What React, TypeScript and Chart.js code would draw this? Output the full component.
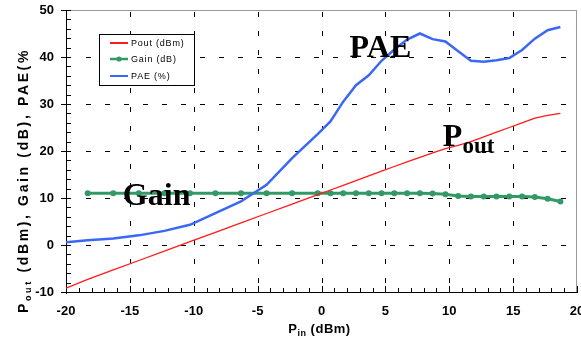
import React, { useEffect, useRef } from "react";
import { Chart, registerables } from "chart.js";

Chart.register(...registerables);

// ---- data ----
const pinAll = [
  -20, -18.3, -16.3, -14.3, -12.3, -10.3, -8.3, -6.3, -4.3, -2.3, -0.3,
  0.7, 1.7, 2.7, 3.7, 4.7, 5.7, 6.7, 7.7, 8.7, 9.7, 10.7, 11.7, 12.7, 13.7,
  14.7, 15.7, 16.7, 17.7, 18.7,
];
const poutValues = [
  -9.2, -7.3, -5.3, -3.3, -1.3, 0.7, 2.7, 4.7, 6.7, 8.7, 10.7,
  11.7, 12.7, 13.7, 14.7, 15.7, 16.7, 17.7, 18.65, 19.6, 20.5, 21.2, 22.0, 23.0, 24.0,
  25.0, 26.0, 27.0, 27.6, 28.0,
];
const paeValues = [
  0.6, 1.0, 1.4, 2.05, 3.0, 4.3, 6.8, 9.3, 12.8, 18.5, 23.6,
  26.3, 30.5, 34.0, 36.1, 39.2, 41.6, 43.7, 45.0, 43.8, 43.3, 41.2, 39.2, 39.0, 39.3,
  39.8, 41.5, 43.9, 45.7, 46.4,
];
const gainPin = [
  -18.3, -16.3, -14.3, -12.3, -10.3, -8.3, -6.3, -4.3, -2.3, -0.3,
  0.7, 1.7, 2.7, 3.7, 4.7, 5.7, 6.7, 7.7, 8.7, 9.7, 10.7, 11.7, 12.7, 13.7,
  14.7, 15.7, 16.7, 17.7, 18.7,
];
const gainValues = [
  11.0, 11.0, 11.0, 11.0, 11.0, 11.0, 11.0, 11.0, 11.0, 11.0,
  11.0, 11.0, 11.0, 11.0, 11.0, 11.0, 11.0, 11.0, 10.95, 10.8, 10.45, 10.3, 10.3, 10.3,
  10.3, 10.3, 10.2, 9.85, 9.25,
];
const seriesLabels = ["Pout (dBm)", "Gain (dB)", "PAE (%)"];
const xTickValues = [-20, -15, -10, -5, 0, 5, 10, 15, 20];
const yTickValues = [-10, 0, 10, 20, 30, 40, 50];
const xMinorStep = 1;
const yMinorStep = 2;

const RED = "#ff1a1a";
const GREEN = "#339966";
const BLUE = "#3a68f5";

const annotations = [
  { text: "PAE", x: 2.2, y: 40.0 },
  { text: "Gain", x: -15.55, y: 8.5 },
];
const poutAnnot = { x: 9.5, y: 21.05 };

function setLS(ctx: any, v: number) {
  if ("letterSpacing" in ctx) ctx.letterSpacing = v + "px";
}

function px(scale: any, v: number) {
  return Math.round(Number(scale.getPixelForValue(v)));
}

function drawFrame(chart: any) {
  const ctx: any = chart.ctx;
  const x = chart.scales.x;
  const y = chart.scales.y;
  const xs = xTickValues;
  const ys = yTickValues;
  const xMin = xs[0];
  const xMax = xs[xs.length - 1];
  const yMin = ys[0];
  const yMax = ys[ys.length - 1];
  const L = px(x, xMin);
  const R = px(x, xMax) - 1;
  const T = px(y, yMax);
  const B = px(y, yMin);
  ctx.save();
  ctx.setTransform(1, 0, 0, 1, 0, 0);
  ctx.globalAlpha = 1;
  ctx.globalCompositeOperation = "source-over";
  ctx.filter = "none";
  ctx.shadowColor = "rgba(0,0,0,0)";
  ctx.beginPath();
  ctx.rect(0, 0, 581, 338);
  ctx.clip();
  if (![L, R, T, B].every((n) => Number.isFinite(n))) {
    ctx.fillStyle = "#f0f";
    ctx.font = "10px sans-serif";
    ctx.fillText("L" + L + " R" + R + " T" + T + " B" + B, 300, 330);
  }
  ctx.fillStyle = "rgb(0,0,0)";
  // dashed grid lines
  for (let i = 1; i < xs.length - 1; i++) {
    const gx = px(x, xs[i]);
    for (let yy = T + 2; yy < B - 2; yy += 19) {
      ctx.fillRect(gx, yy, 1, Math.min(5, B - 2 - yy));
    }
  }
  for (let i = 1; i < ys.length - 1; i++) {
    const gy = px(y, ys[i]);
    for (let xx = L + 20; xx < R - 1; xx += 19) {
      ctx.fillRect(xx, gy, Math.min(5, R - 1 - xx), 1);
    }
  }
  // top & right border (grey)
  ctx.fillStyle = "rgb(154,154,154)";
  ctx.fillRect(L, T, R - L + 1, 1);
  ctx.fillRect(R, T, 1, B - T + 1);
  // axes
  ctx.fillStyle = "rgb(0,0,0)";
  ctx.fillRect(L, T, 1, B - T + 2);
  ctx.fillRect(L - 1, B, R - L + 3, 1);
  // ticks
  for (let v = xMin; v <= xMax; v += xMinorStep) {
    const tx = px(x, v);
    const h = v % 5 === 0 ? 6 : 4;
    ctx.fillRect(tx, B - h, 1, h);
  }
  for (let v = yMin; v <= yMax; v += yMinorStep) {
    const ty = px(y, v);
    ctx.fillRect(L, ty, 5, 1);
    if (v % 10 === 0) ctx.fillRect(L - 5, ty, 5, 1);
  }
  ctx.restore();
}

function drawOverlay(chart: any) {
  const ctx: any = chart.ctx;
  const x = chart.scales.x;
  const y = chart.scales.y;
  ctx.save();
  ctx.fillStyle = "#000";
  ctx.textBaseline = "alphabetic";
  ctx.textAlign = "left";
  ctx.font = 'bold 32px "Liberation Serif"';
  for (const an of annotations) {
    ctx.fillText(an.text, x.getPixelForValue(an.x), y.getPixelForValue(an.y));
  }
  const ppx = x.getPixelForValue(poutAnnot.x);
  const ppy = y.getPixelForValue(poutAnnot.y);
  ctx.fillText("P", ppx, ppy);
  const pw = ctx.measureText("P").width;
  ctx.font = 'bold 23px "Liberation Serif"';
  ctx.fillText("out", ppx + pw, ppy + 7);

  // legend
  const lx = 99.5, ly = 34.5, lw = 95, lh = 51;
  ctx.fillStyle = "#fff";
  ctx.fillRect(lx, ly, lw, lh);
  ctx.strokeStyle = "#000";
  ctx.lineWidth = 1;
  ctx.strokeRect(lx, ly, lw, lh);
  const ds = chart.data.datasets;
  const rows = [43, 59, 76];
  ctx.font = '9px "Liberation Sans"';
  ctx.textBaseline = "middle";
  setLS(ctx, 0.8);
  for (let i = 0; i < 3; i++) {
    const d = ds[i];
    ctx.strokeStyle = d.borderColor;
    ctx.lineWidth = i === 1 ? 2.5 : 2;
    ctx.beginPath();
    ctx.moveTo(110, rows[i]);
    ctx.lineTo(128, rows[i]);
    ctx.stroke();
    if (i === 1) {
      ctx.fillStyle = d.borderColor;
      ctx.beginPath();
      ctx.arc(119, rows[i], 2.6, 0, Math.PI * 2);
      ctx.fill();
    }
    ctx.fillStyle = "#000";
    ctx.fillText(d.label, 131, rows[i] + 0.5);
  }
  setLS(ctx, 0);

  // axis titles
  ctx.textBaseline = "alphabetic";
  const drawParts = (parts: any[], sp: number, dry: boolean) => {
    let cx = 0;
    let n = 0;
    for (const p of parts) {
      ctx.font = p.font;
      setLS(ctx, sp);
      if (!dry) ctx.fillText(p.text, cx, p.dy);
      cx += ctx.measureText(p.text).width;
      n += p.text.length;
    }
    setLS(ctx, 0);
    return { w: cx, n };
  };
  const yParts = [
    { text: "P", font: 'bold 14px "Liberation Sans"', dy: 0 },
    { text: "out", font: 'bold 9px "Liberation Sans"', dy: 3 },
    { text: " (dBm), Gain (dB), PAE(%", font: 'bold 14px "Liberation Sans"', dy: 0 },
  ];
  const m0 = drawParts(yParts, 0, true);
  const sp = (265 - m0.w) / m0.n;
  ctx.save();
  ctx.translate(28, 313);
  ctx.rotate(-Math.PI / 2);
  drawParts(yParts, sp, false);
  ctx.restore();
  const xParts = [
    { text: "P", font: 'bold 13px "Liberation Sans"', dy: 0 },
    { text: "in", font: 'bold 9px "Liberation Sans"', dy: 3 },
    { text: " (dBm)", font: 'bold 13px "Liberation Sans"', dy: 0 },
  ];
  const mx = drawParts(xParts, 0.5, true);
  ctx.save();
  ctx.translate(x.getPixelForValue(0) - 2 - mx.w / 2, 333);
  drawParts(xParts, 0.5, false);
  ctx.restore();
  ctx.restore();
}

function guarded(fn: (c: any) => void, chart: any, tag: string, yPos: number) {
  try {
    fn(chart);
  } catch (e: any) {
    const ctx = chart.ctx;
    ctx.save();
    ctx.setTransform(1, 0, 0, 1, 0, 0);
    ctx.fillStyle = "#f0f";
    ctx.font = "10px sans-serif";
    ctx.fillText(tag + " err: " + String(e && e.message), 200, yPos);
    ctx.restore();
  }
}

const decor = {
  id: "decor",
  beforeDatasetsDraw(chart: any) {
    guarded(drawFrame, chart, "frame", 320);
  },
  afterDraw(chart: any) {
    guarded(drawOverlay, chart, "overlay", 330);
  },
};

export default function App() {
  const ref = useRef<HTMLCanvasElement | null>(null);
  useEffect(() => {
    document.body.style.margin = "0";
    const canvas = ref.current;
    if (!canvas) return;
    Chart.defaults.font.family = '"Liberation Sans", Arial, sans-serif';
    const chart = new Chart(canvas, {
      type: "line",
      data: {
        datasets: [
          {
            label: seriesLabels[0],
            data: pinAll.map((p, i) => ({ x: p, y: poutValues[i] })),
            borderColor: RED,
            backgroundColor: RED,
            borderWidth: 1.3,
            pointRadius: 0,
            order: 0,
          },
          {
            label: seriesLabels[1],
            data: gainPin.map((p, i) => ({ x: p, y: gainValues[i] })),
            borderColor: GREEN,
            backgroundColor: GREEN,
            borderWidth: 3,
            pointRadius: 3,
            pointBorderWidth: 0,
            pointBackgroundColor: GREEN,
            order: 2,
          },
          {
            label: seriesLabels[2],
            data: pinAll.map((p, i) => ({ x: p, y: paeValues[i] })),
            borderColor: BLUE,
            backgroundColor: BLUE,
            borderWidth: 2.5,
            pointRadius: 0,
            order: 1,
          },
        ],
      },
      options: {
        animation: false,
        responsive: false,
        maintainAspectRatio: false,
        devicePixelRatio: 1,
        layout: { padding: { top: 10, right: 4, left: 0, bottom: 0 } },
        plugins: { legend: { display: false }, tooltip: { enabled: false } },
        scales: {
          x: {
            type: "linear",
            min: -20,
            max: 20,
            afterBuildTicks: (s: any) => {
              s.ticks = xTickValues.map((v) => ({ value: v }));
            },
            ticks: {
              font: { size: 13, weight: "bold" },
              color: "#000",
              padding: 12,
              maxRotation: 0,
              autoSkip: false,
            },
            grid: { display: false, drawTicks: false },
            border: { display: false },
            afterFit: (s: any) => {
              s.height = 46;
              s.paddingLeft = 0;
              s.paddingRight = 0;
            },
          },
          y: {
            type: "linear",
            min: -10,
            max: 50,
            afterBuildTicks: (s: any) => {
              s.ticks = yTickValues.map((v) => ({ value: v }));
            },
            ticks: {
              font: { size: 13, weight: "bold" },
              color: "#000",
              padding: 12,
              autoSkip: false,
            },
            grid: { display: false, drawTicks: false },
            border: { display: false },
            afterFit: (s: any) => {
              s.width = 66;
              s.paddingTop = 0;
              s.paddingBottom = 0;
            },
          },
        },
      },
      plugins: [decor],
    } as any);
    return () => chart.destroy();
  }, []);
  return (
    <div style={{ position: "absolute", left: 0, top: 0, width: 581, height: 338 }}>
      <canvas ref={ref} width={581} height={338} style={{ display: "block" }} />
    </div>
  );
}
